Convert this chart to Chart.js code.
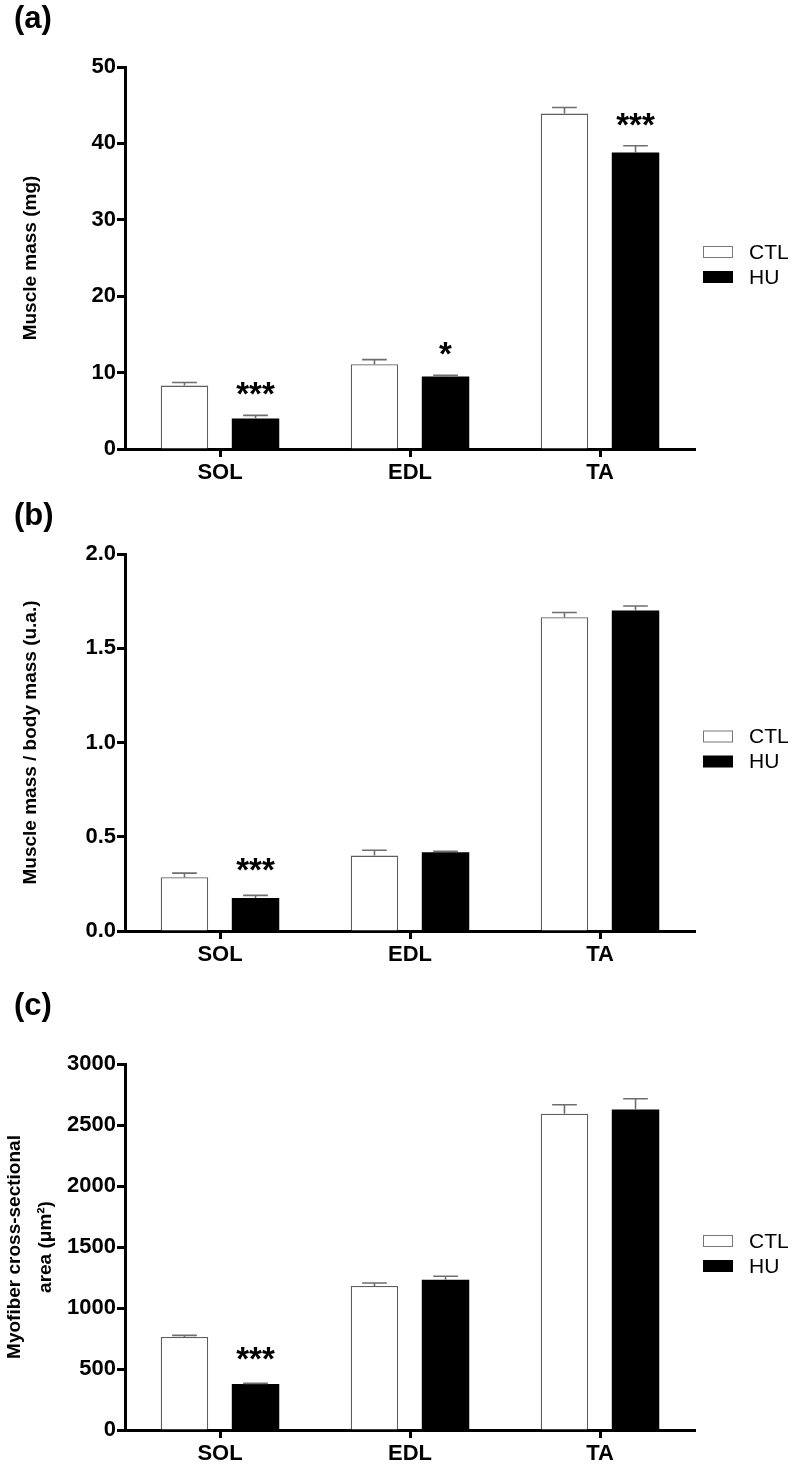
<!DOCTYPE html>
<html>
<head>
<meta charset="utf-8">
<script src="https://cdn.jsdelivr.net/npm/chart.js@4.4.1/dist/chart.umd.min.js"></script>
<style>
  body { margin: 0; background: #fff; font-family: "Liberation Sans", Arial, sans-serif; }
  #page { position: relative; width: 800px; height: 1468px; overflow: hidden; }
  .panel { position: absolute; left: 0; width: 800px; }
  .tag { position: absolute; left: 14px; font-weight: bold; font-size: 31px; line-height: 1; color: #000; }
</style>
</head>
<body>
<div id="page">
  <div class="panel" style="top:0;height:490px"><canvas id="chartA"></canvas></div>
  <div class="panel" style="top:490px;height:490px"><canvas id="chartB"></canvas></div>
  <div class="panel" style="top:980px;height:488px"><canvas id="chartC"></canvas></div>
  <div class="tag" style="top:2px">(a)</div>
  <div class="tag" style="top:499px">(b)</div>
  <div class="tag" style="top:989px">(c)</div>
</div>
<script>
const FONT = '"Liberation Sans", Arial, sans-serif';

const muscles = ['SOL', 'EDL', 'TA'];
const seriesNames = ['CTL', 'HU'];

// (a) muscle mass (mg)
const massCTL = [8.3, 11.1, 43.9];
const massCTLsem = [0.4, 0.6, 0.8];
const massHU = [4.0, 9.5, 38.8];
const massHUsem = [0.4, 0.15, 0.9];
const massSig = ['***', '*', '***'];
const massSigY = [8.3, 13.5, 43.4];
const massTicks = [0, 10, 20, 30, 40, 50];

// (b) muscle mass / body mass
const ratioCTL = [0.285, 0.40, 1.665];
const ratioCTLsem = [0.022, 0.028, 0.025];
const ratioHU = [0.175, 0.418, 1.70];
const ratioHUsem = [0.014, 0.005, 0.024];
const ratioSig = ['***', '', ''];
const ratioSigY = [0.365, null, null];
const ratioTicks = [0, 0.5, 1, 1.5, 2];

// (c) myofiber CSA (um2)
const csaCTL = [762, 1180, 2592];
const csaCTLsem = [14, 25, 74];
const csaHU = [377, 1232, 2628];
const csaHUsem = [5, 28, 87];
const csaSig = ['***', '', ''];
const csaSigY = [650, null, null];
const csaTicks = [0, 500, 1000, 1500, 2000, 2500, 3000];

// error bars (SEM, upward only)
const errorBarPlugin = {
  id: 'errorBars',
  afterDatasetsDraw(chart) {
    const ctx = chart.ctx;
    const yScale = chart.scales.y;
    chart.data.datasets.forEach((ds, i) => {
      chart.getDatasetMeta(i).data.forEach((bar, j) => {
        const top = yScale.getPixelForValue(ds.data[j] + ds.errors[j]);
        const half = bar.width * 0.26;
        ctx.save();
        ctx.strokeStyle = '#6e6e6e';
        ctx.lineWidth = 1.6;
        ctx.beginPath();
        ctx.moveTo(bar.x, bar.y);
        ctx.lineTo(bar.x, top);
        ctx.moveTo(bar.x - half, top);
        ctx.lineTo(bar.x + half, top);
        ctx.stroke();
        ctx.restore();
      });
    });
  }
};

// significance stars above HU bars
const sigPlugin = {
  id: 'sigMarks',
  afterDatasetsDraw(chart, args, opts) {
    const ctx = chart.ctx;
    const yScale = chart.scales.y;
    const bars = chart.getDatasetMeta(1).data;
    ctx.save();
    ctx.font = 'bold 33px ' + FONT;
    ctx.fillStyle = '#000';
    ctx.textAlign = 'center';
    ctx.textBaseline = 'alphabetic';
    opts.text.forEach((t, j) => {
      if (!t) return;
      const cy = yScale.getPixelForValue(opts.at[j]);
      ctx.fillText(t, bars[j].x, cy + 19);
    });
    ctx.restore();
  }
};

// legend to the right of the plot
const legendPlugin = {
  id: 'sideLegend',
  afterDraw(chart) {
    const ctx = chart.ctx;
    const area = chart.chartArea;
    const cy = (area.top + area.bottom) / 2;
    ctx.save();
    chart.data.datasets.forEach((ds, i) => {
      const y = cy - 6 + i * 25;
      ctx.fillStyle = ds.backgroundColor;
      ctx.fillRect(703, y - 6, 30, 12);
      if (i === 0) {
        ctx.strokeStyle = '#777';
        ctx.lineWidth = 1;
        ctx.strokeRect(703.5, y - 5.5, 29, 11);
      }
      ctx.fillStyle = '#000';
      ctx.font = '21px ' + FONT;
      ctx.textAlign = 'left';
      ctx.textBaseline = 'middle';
      ctx.fillText(ds.label, 749, y + 1);
    });
    ctx.restore();
  }
};

function makeChart(id, cfg) {
  return new Chart(document.getElementById(id), {
    type: 'bar',
    data: {
      labels: muscles,
      datasets: [
        { label: seriesNames[0], data: cfg.ctl, errors: cfg.ctlErr,
          backgroundColor: '#ffffff', borderColor: '#5e5e5e', borderWidth: 1.3 },
        { label: seriesNames[1], data: cfg.hu, errors: cfg.huErr,
          backgroundColor: '#000000', borderColor: '#000000', borderWidth: 0 }
      ]
    },
    options: {
      responsive: true,
      maintainAspectRatio: false,
      animation: false,
      layout: { padding: { top: cfg.top, right: 105, left: 0, bottom: 0 } },
      datasets: { bar: { barPercentage: 0.668, categoryPercentage: 0.748 } },
      plugins: {
        legend: { display: false },
        tooltip: { enabled: false },
        sigMarks: { text: cfg.sig, at: cfg.sigY }
      },
      scales: {
        x: {
          z: 1,
          border: { display: true, color: '#000', width: 3 },
          grid: { offset: false, drawOnChartArea: false, tickLength: 8, tickWidth: 3, tickColor: '#000' },
          ticks: { color: '#000', padding: 3, font: { family: FONT, size: 22, weight: 'bold' } },
          afterFit: s => { s.height = cfg.xHeight; }
        },
        y: {
          min: cfg.ticks[0],
          max: cfg.ticks[cfg.ticks.length - 1],
          border: { display: true, color: '#000', width: 3 },
          grid: { drawOnChartArea: false, tickLength: 8, tickWidth: 3, tickColor: '#000' },
          afterBuildTicks: s => { s.ticks = cfg.ticks.map(v => ({ value: v })); },
          ticks: {
            color: '#000', padding: 1,
            font: { family: FONT, size: 22, weight: 'bold' },
            callback: v => cfg.fmt(v)
          },
          title: {
            display: true,
            text: cfg.title,
            color: '#000',
            font: { family: FONT, size: 19, weight: 'bold', lineHeight: cfg.titleLH },
            padding: { top: cfg.titlePad, bottom: 0 }
          },
          afterFit: s => { s.width = 125; }
        }
      }
    },
    plugins: [errorBarPlugin, sigPlugin, legendPlugin]
  });
}

makeChart('chartA', {
  ctl: massCTL, ctlErr: massCTLsem, hu: massHU, huErr: massHUsem,
  sig: massSig, sigY: massSigY, ticks: massTicks, fmt: v => String(v),
  title: 'Muscle mass (mg)', titleLH: 1.2, titlePad: 19, top: 67, xHeight: 41
});
makeChart('chartB', {
  ctl: ratioCTL, ctlErr: ratioCTLsem, hu: ratioHU, huErr: ratioHUsem,
  sig: ratioSig, sigY: ratioSigY, ticks: ratioTicks, fmt: v => v.toFixed(1),
  title: 'Muscle mass / body mass (u.a.)', titleLH: 1.2, titlePad: 19, top: 64, xHeight: 49
});
makeChart('chartC', {
  ctl: csaCTL, ctlErr: csaCTLsem, hu: csaHU, huErr: csaHUsem,
  sig: csaSig, sigY: csaSigY, ticks: csaTicks, fmt: v => String(v),
  title: ['Myofiber cross-sectional', 'area (\u03BCm\u00B2)'], titleLH: 1.6, titlePad: 0, top: 84, xHeight: 38
});
</script>
</body>
</html>
